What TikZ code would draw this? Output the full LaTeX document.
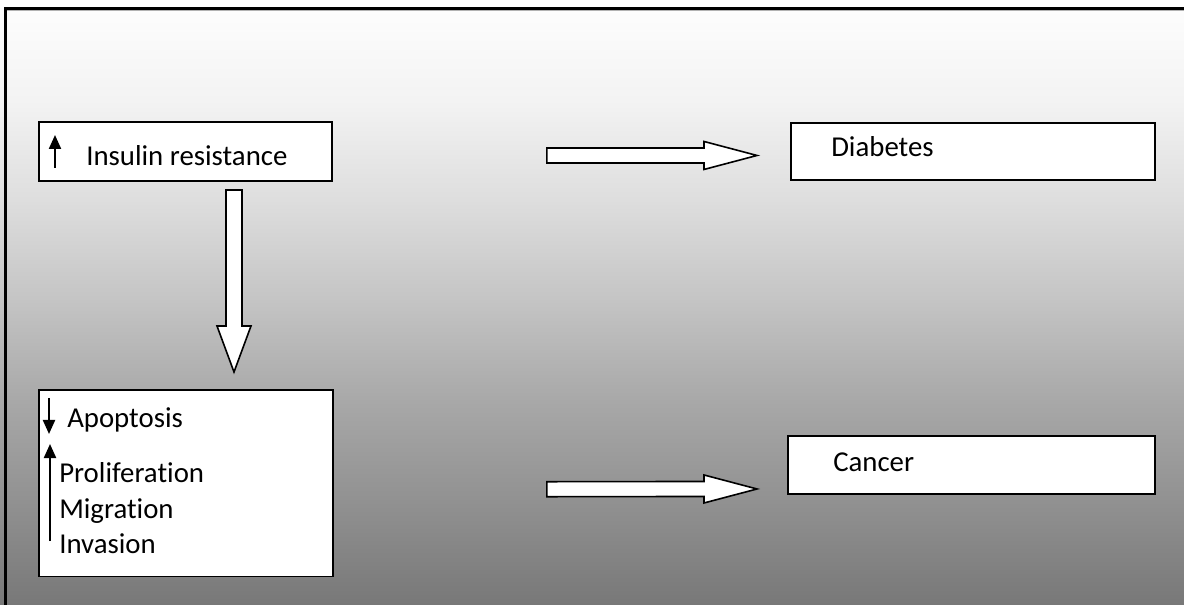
\documentclass[tikz,border=0pt]{standalone}
\usepackage{fontspec}
\setmainfont{Carlito}[Ligatures={NoCommon}]
\usetikzlibrary{arrows.meta,calc}

% grey levels of the page background, from bottom to top
\definecolor{gA}{gray}{0.47}
\definecolor{gB}{gray}{0.57}
\definecolor{gC}{gray}{0.66}
\definecolor{gD}{gray}{0.77}
\definecolor{gE}{gray}{0.87}
\definecolor{gF}{gray}{0.953}
\definecolor{gG}{gray}{0.992}
\pgfdeclareverticalshading{pagefade}{100bp}{%
  color(0bp)=(gA); color(25bp)=(gA); color(33.8bp)=(gB); color(42.2bp)=(gC);
  color(50.6bp)=(gD); color(59bp)=(gE); color(67.35bp)=(gF); color(75bp)=(gG);
  color(100bp)=(gG)}

\tikzset{
  box/.style={draw=black, fill=white, line width=1.3pt, inner sep=0pt},
  label/.style={anchor=base west, inner sep=0pt, font=\fontsize{21.6}{26}\selectfont},
  blockarrow/.style={draw=black, fill=white, line width=1.2pt, line join=miter},
  tick/.style={line width=1.6pt, -{Triangle[width=9pt,length=10.5pt]}},
}

\begin{document}
\begin{tikzpicture}[x=0.75pt,y=-0.75pt]
  \useasboundingbox (0,0) rectangle (1184,605);
  \clip (0,0) rectangle (1184,605);

  % page background and frame
  \fill[white] (0,0) rectangle (1184,605);
  \shade[shading=pagefade] (0,9) rectangle (1184,605);
  \draw[gray!60, line width=0.8pt] (6.5,10.8) -- (1190,10.8);
  \draw[black, line width=1.6pt] (5.5,620) -- (5.5,8.5) -- (1200,8.5);

  % boxes
  \node[box, minimum width=292bp*0.75, minimum height=59bp*0.75, anchor=north west] (ir) at (38,121) {};
  \node[box, minimum width=363bp*0.75, minimum height=57bp*0.75, anchor=north west] (db) at (790,122) {};
  \node[box, minimum width=293bp*0.75, minimum height=186bp*0.75, anchor=north west] (ap) at (38,389) {};
  \node[box, minimum width=366bp*0.75, minimum height=58bp*0.75, anchor=north west] (ca) at (787,435) {};

  % texts and the small up/down marks
  \node[label] (irt) at (86,166) {Insulin resistance};
  \draw[tick] (55,168) -- (55,135);
  \node[label] (dbt) at (831,157) {Diabetes};
  \node[label] (cat) at (833,471) {Cancer};
  \node[label] (apt) at (67,427) {Apoptosis};
  \draw[tick] (49,398) -- (49,434);
  \node[label] (prt) at (59,482) {Proliferation};
  \node[label] (mit) at (59,518) {Migration};
  \node[label] (int) at (59,553) {Invasion};
  \draw[tick] (50,541) -- (50,444);

  % block arrows between the boxes
  \coordinate (a1) at ($(ir.east)+(214,4)$);
  \coordinate (a2) at ($(db.west)+(-33,4)$);
  \draw[blockarrow] ($(a1)+(0,-7.5)$) -- ($(a2)+(-53,-7.5)$) -- ($(a2)+(-53,-14)$)
    -- (a2) -- ($(a2)+(-53,14)$) -- ($(a2)+(-53,7.5)$) -- ($(a1)+(0,7.5)$) -- cycle;

  \coordinate (b1) at ($(ap.east)+(213,6)$);
  \coordinate (b2) at ($(ca.west)+(-30,24)$);
  \draw[blockarrow] ($(b1)+(0,-7.5)$) -- ($(b2)+(-53,-7.5)$) -- ($(b2)+(-53,-14)$)
    -- (b2) -- ($(b2)+(-53,14)$) -- ($(b2)+(-53,7.5)$) -- ($(b1)+(0,7.5)$) -- cycle;

  \coordinate (c1) at ($(ir.south west)+(196,8)$);
  \coordinate (c2) at ($(ap.north west)+(196,-17)$);
  \draw[blockarrow] ($(c1)+(-8,0)$) -- ($(c2)+(-8,-46)$) -- ($(c2)+(-17,-46)$)
    -- (c2) -- ($(c2)+(17,-46)$) -- ($(c2)+(8,-46)$) -- ($(c1)+(8,0)$) -- cycle;
\end{tikzpicture}
\end{document}
